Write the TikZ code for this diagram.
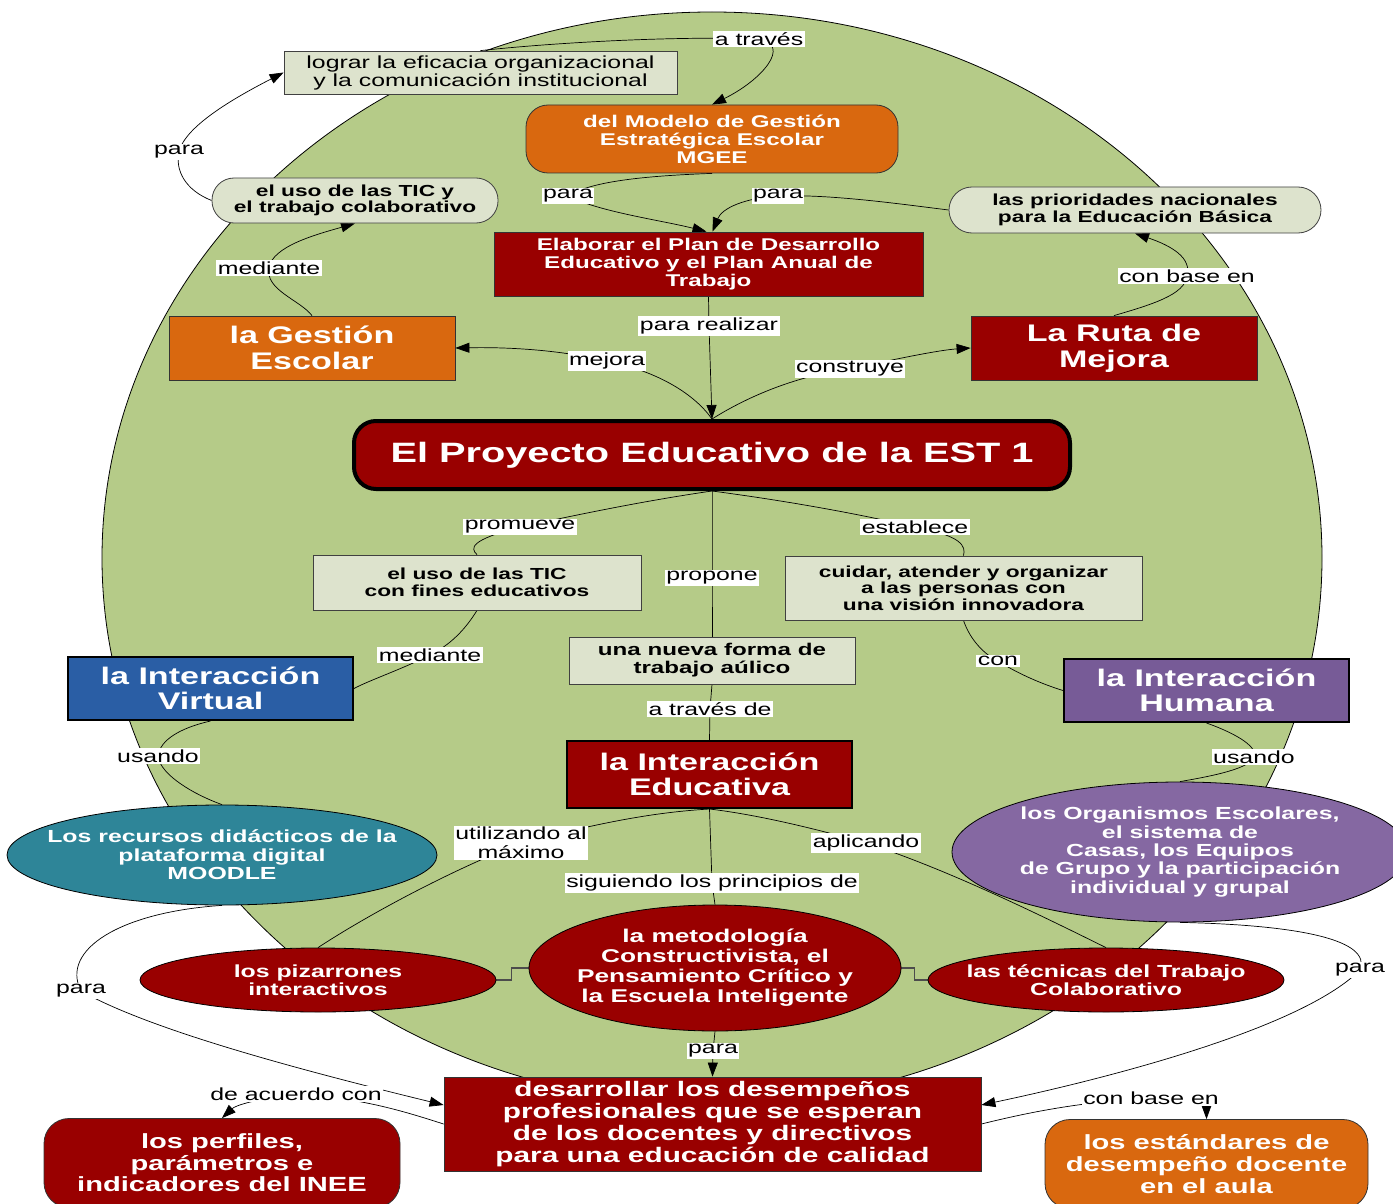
\documentclass[tikz,border=0pt]{standalone}
\usepackage{fontspec}
\setmainfont{Liberation Sans}[FakeStretch=1.42]
\usetikzlibrary{arrows.meta,shapes.geometric,calc}
\pgfdeclarelayer{bg}\pgfdeclarelayer{edges}\pgfsetlayers{bg,edges,main}
\newcommand\myfs[2]{\fontsize{#1}{#2}\selectfont}
\definecolor{bggreen}{RGB}{181,203,136}
\definecolor{lightfill}{RGB}{221,227,205}
\definecolor{dred}{RGB}{153,0,0}
\definecolor{orng}{RGB}{217,104,15}
\definecolor{blu}{RGB}{42,94,165}
\definecolor{purp}{RGB}{119,91,151}
\definecolor{purpl}{RGB}{133,104,162}
\definecolor{tealc}{RGB}{46,133,152}
\tikzset{
 base/.style={inner sep=0pt, align=center, text=white},
 lbox/.style={base, rectangle, fill=lightfill, draw=black!75, line width=0.8pt, text=black},
 rbox/.style={base, rectangle, fill=dred, draw=black!80, line width=0.8pt},
 obox/.style={base, rectangle, fill=orng, draw=black!80, line width=0.8pt},
 ibox/.style={base, rectangle, draw=black, line width=2pt},
 ell/.style={ellipse, draw=black, line width=0.8pt, inner sep=0pt},
 elltxt/.style={inner sep=0pt, align=center, text=white},
 lbl/.style={fill=white, inner sep=1.5pt, font=\myfs{17.5}{19}, text=black, align=center},
 conn/.style={draw=black, line width=0.7pt},
 arr/.style={conn, -{Triangle[length=14pt,width=10pt]}},
 elb/.style={draw=black!70, line width=1.4pt},
}
\begin{document}
\begin{tikzpicture}[x=1pt,y=-1pt]
\useasboundingbox (0,0) rectangle (1393,1204);
\begin{pgfonlayer}{bg}
\filldraw[fill=bggreen, draw=black, line width=0.8pt] (712,558) ellipse [x radius=610pt, y radius=546pt];
\end{pgfonlayer}

% ---------- concept nodes ----------
\node[lbox, minimum width=393pt, minimum height=43pt, font=\myfs{17.5}{18}] (lograr) at (480.5,72.5) {lograr la eficacia organizacional\\y la comunicación institucional};
\node[obox, rounded corners=22pt, minimum width=372pt, minimum height=68pt, font=\bfseries\myfs{17}{18}] (mgee) at (712,139) {del Modelo de Gestión\\Estratégica Escolar\\MGEE};
\node[lbox, rounded corners=22pt, minimum width=286pt, minimum height=45pt, font=\bfseries\myfs{16}{16.5}] (usotic) at (355,200.5) {el uso de las TIC y\\el trabajo colaborativo};
\node[lbox, rounded corners=23pt, minimum width=372pt, minimum height=46pt, font=\bfseries\myfs{16}{16.5}] (prio) at (1135,210) {las prioridades nacionales\\para la Educación Básica};
\node[rbox, minimum width=429pt, minimum height=64pt, font=\bfseries\myfs{17}{18}] (elab) at (708.5,264) {Elaborar el Plan de Desarrollo\\Educativo y el Plan Anual de\\Trabajo};
\node[obox, minimum width=286pt, minimum height=64pt, font=\bfseries\myfs{24}{26}] (gest) at (312,348) {la Gestión\\Escolar};
\node[rbox, minimum width=286pt, minimum height=64pt, font=\bfseries\myfs{24}{26}] (ruta) at (1114,348) {La Ruta de\\Mejora};
\node[base, fill=dred, draw=black, line width=4pt, rounded corners=22pt, minimum width=716pt, minimum height=68pt, font=\bfseries\myfs{28}{30}] (proy) at (712,455) {El Proyecto Educativo de la EST 1};
\node[lbox, minimum width=328pt, minimum height=55pt, font=\bfseries\myfs{16}{16.5}] (ticf) at (477,582.5) {el uso de las TIC\\con fines educativos};
\node[lbox, minimum width=357pt, minimum height=64pt, font=\bfseries\myfs{16}{16.5}] (cuidar) at (963.5,588) {cuidar, atender y organizar\\a las personas con\\una visión innovadora};
\node[lbox, minimum width=286pt, minimum height=47pt, font=\bfseries\myfs{17}{18}] (nueva) at (712,660.5) {una nueva forma de\\trabajo aúlico};
\node[ibox, fill=blu, minimum width=285pt, minimum height=63pt, font=\bfseries\myfs{24}{25}] (virtual) at (210.5,688.5) {la Interacción\\Virtual};
\node[ibox, fill=purp, minimum width=285pt, minimum height=63pt, font=\bfseries\myfs{24}{25}] (humana) at (1206.5,690.5) {la Interacción\\Humana};
\node[ibox, fill=dred, minimum width=285pt, minimum height=67pt, font=\bfseries\myfs{24}{25}] (educ) at (709.5,774.5) {la Interacción\\Educativa};

\node[ell, fill=tealc, minimum width=430pt, minimum height=100pt] (moodle) at (222,855) {};
\node[elltxt, font=\bfseries\myfs{17.5}{18.5}] (moodletxt) at (moodle) {Los recursos didácticos de la\\plataforma digital\\MOODLE};
\node[ell, fill=purpl, minimum width=456pt, minimum height=140pt] (organ) at (1180,852) {};
\node[elltxt, font=\bfseries\myfs{17.5}{18.4}] (organtxt) at (organ) {los Organismos Escolares,\\el sistema de\\Casas, los Equipos\\de Grupo y la participación\\individual y grupal};
\node[ell, fill=dred, minimum width=356pt, minimum height=64pt] (pizarr) at (318,980) {};
\node[elltxt, font=\bfseries\myfs{17.5}{18.5}] (pizarrtxt) at (pizarr) {los pizarrones\\interactivos};
\node[ell, fill=dred, minimum width=372pt, minimum height=126pt] (metodo) at (715,968) {};
\node[elltxt, font=\bfseries\myfs{18.5}{20}] (metodotxt) at (metodo) {la metodología\\Constructivista, el\\Pensamiento Crítico y\\la Escuela Inteligente};
\node[ell, fill=dred, minimum width=356pt, minimum height=64pt] (tecnicas) at (1106,980) {};
\node[elltxt, font=\bfseries\myfs{17.5}{18.5}] (tecnicastxt) at (tecnicas) {las técnicas del Trabajo\\Colaborativo};

\node[rbox, minimum width=537pt, minimum height=94pt, font=\bfseries\myfs{21}{22}] (desar) at (712.5,1124) {desarrollar los desempeños\\profesionales que se esperan\\de los docentes y directivos\\para una educación de calidad};
\node[rbox, rounded corners=25pt, minimum width=356pt, minimum height=89pt, font=\bfseries\myfs{20.5}{21.5}] (perfiles) at (222,1163) {los perfiles,\\parámetros e\\indicadores del INEE};
\node[obox, rounded corners=25pt, minimum width=323pt, minimum height=89pt, font=\bfseries\myfs{20.5}{22}] (estand) at (1206.5,1164) {los estándares de\\desempeño docente\\en el aula};

% ---------- linking phrases ----------
\node[lbl] (atraves) at (759,39) {a través};
\node[lbl] (para1) at (568,196) {para};
\node[lbl] (para2) at (778,196) {para};
\node[lbl] (cbe1) at (1187,276) {con base en};
\node[lbl] (parareal) at (709,326) {para realizar};
\node[lbl] (mejora) at (607,361) {mejora};
\node[lbl] (construye) at (850,369) {construye};
\node[lbl] (med1) at (269,268) {mediante};
\node[lbl] (para3) at (179,152) {para};
\node[lbl] (promueve) at (520,527) {promueve};
\node[lbl] (propone) at (712,578) {propone};
\node[lbl] (establece) at (915,527) {establece};
\node[lbl] (med2) at (430,655) {mediante};
\node[lbl] (con) at (998,661) {con};
\node[lbl] (atrvde) at (710,709) {a través de};
\node[lbl] (usando1) at (158,756) {usando};
\node[lbl] (usando2) at (1254,757) {usando};
\node[lbl] (utiliz) at (521,843) {utilizando al\\máximo};
\node[lbl] (siguiendo) at (712,883) {siguiendo los principios de};
\node[lbl] (aplic) at (866,843) {aplicando};
\node[lbl] (para4) at (713,1051) {para};
\node[lbl] (para5) at (81,991) {para};
\node[lbl] (para6) at (1360,970) {para};
\node[lbl] (deacuerdo) at (296,1094) {de acuerdo con};
\node[lbl] (cbe2) at (1151,1098) {con base en};

% ---------- connectors ----------
\begin{pgfonlayer}{edges}
\draw[conn] (lograr.north) .. controls (560,42) and (680,36) .. (atraves.center);
\draw[arr] (atraves.center) .. controls (792,45) and (762,80) .. (mgee.north);
\draw[conn] (mgee.south) .. controls (640,176) and (590,182) .. (para1.center);
\draw[arr] (para1.center) .. controls (600,212) and (660,220) .. ([xshift=-2pt]elab.north);
\draw[conn] (prio.west) .. controls (900,204) and (830,194) .. (para2.center);
\draw[arr] (para2.center) .. controls (745,198) and (722,208) .. ([xshift=4pt]elab.north);
\draw[conn] (ruta.north) .. controls (1150,305) and (1185,295) .. (cbe1.center);
\draw[arr] (cbe1.center) .. controls (1192,258) and (1172,246) .. (prio.south);
\draw[conn] (elab.south) -- (parareal.center);
\draw[arr] (parareal.center) -- (proy.north);
\draw[conn] (proy.north) .. controls (695,395) and (660,372) .. (mejora.center);
\draw[arr] (mejora.center) .. controls (560,350) and (510,347) .. (gest.east);
\draw[conn] (proy.north) .. controls (750,395) and (800,375) .. (construye.center);
\draw[arr] (construye.center) .. controls (900,358) and (940,350) .. (ruta.west);
\draw[conn] (gest.north) .. controls (300,300) and (265,290) .. (med1.center);
\draw[arr] (med1.center) .. controls (272,246) and (318,234) .. (usotic.south);
\draw[conn] (usotic.west) .. controls (185,190) and (175,170) .. (para3.center);
\draw[arr] (para3.center) .. controls (185,125) and (240,95) .. (lograr.west);
\draw[conn] (proy.south) .. controls (650,500) and (590,512) .. (promueve.center);
\draw[conn] (promueve.center) .. controls (470,540) and (470,548) .. (ticf.north);
\draw[conn] (proy.south) -- (propone.center) -- (nueva.north);
\draw[conn] (proy.south) .. controls (780,500) and (850,512) .. (establece.center);
\draw[conn] (establece.center) .. controls (962,536) and (966,546) .. (cuidar.north);
\draw[conn] (ticf.south) .. controls (465,630) and (450,645) .. (med2.center);
\draw[conn] (med2.center) .. controls (400,670) and (370,680) .. (virtual.east);
\draw[conn] (cuidar.south) .. controls (970,640) and (985,655) .. (con.center);
\draw[conn] (con.center) .. controls (1020,675) and (1045,685) .. (humana.west);
\draw[conn] (nueva.south) -- (atrvde.center) -- (educ.north);
\draw[conn] (virtual.south) .. controls (180,728) and (160,740) .. (usando1.center);
\draw[conn] (usando1.center) .. controls (160,775) and (195,795) .. (moodle.north);
\draw[conn] (humana.south) .. controls (1240,735) and (1258,748) .. (usando2.center);
\draw[conn] (usando2.center) .. controls (1250,770) and (1200,778) .. (organ.north);
\draw[conn] (educ.south) .. controls (660,812) and (610,820) .. (utiliz.center);
\draw[conn] (utiliz.center) .. controls (440,875) and (360,920) .. (pizarr.north);
\draw[conn] (educ.south) -- (siguiendo.center) -- (metodo.north);
\draw[conn] (educ.south) .. controls (760,815) and (820,830) .. (aplic.center);
\draw[conn] (aplic.center) .. controls (950,870) and (1050,920) .. (tecnicas.north);
\draw[elb] (pizarr.east) -- ++(15,0) |- (metodo.west);
\draw[elb] (metodo.east) -- ++(13,0) |- (tecnicas.west);
\draw[conn] (metodo.south) -- (para4.center);
\draw[arr] (para4.center) -- (desar.north);
\draw[conn] (moodle.south) .. controls (120,912) and (60,950) .. (para5.center);
\draw[arr] (para5.center) .. controls (150,1030) and (300,1070) .. ([yshift=19pt]desar.west);
\draw[conn] (organ.south) .. controls (1300,925) and (1372,940) .. (para6.center);
\draw[arr] (para6.center) .. controls (1300,1030) and (1100,1080) .. ([yshift=19pt]desar.east);
\draw[conn] (desar.west) .. controls (400,1110) and (360,1098) .. (deacuerdo.center);
\draw[arr] (deacuerdo.center) .. controls (250,1100) and (235,1106) .. (perfiles.north);
\draw[conn] (desar.east) .. controls (1030,1112) and (1080,1102) .. (cbe2.center);
\draw[arr] (cbe2.center -| estand.north) -- (estand.north);
\end{pgfonlayer}
\end{tikzpicture}
\end{document}
